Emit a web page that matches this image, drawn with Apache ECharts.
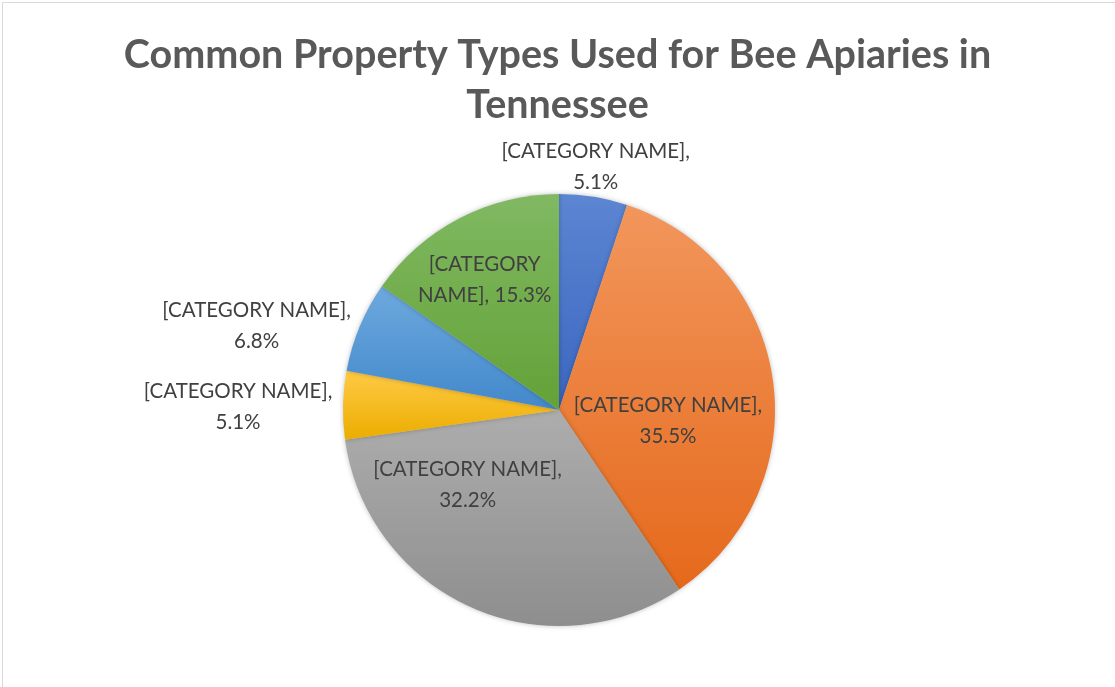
<!DOCTYPE html>
<html>
<head>
<meta charset="utf-8">
<script src="https://cdn.jsdelivr.net/npm/echarts@6/dist/echarts.min.js"></script>
<style>
  html, body { margin: 0; padding: 0; background: #fff; }
  #chart { position: absolute; left: 0; top: 0; width: 1115px; height: 687px; }
  #frame { position: absolute; left: 2px; top: 2px; width: 1200px; height: 800px;
           border-top: 1px solid #D9D9D9; border-left: 1px solid #D9D9D9; pointer-events: none; }
</style>
</head>
<body>
<div id="chart"></div>
<div id="frame"></div>
<script>
// ---- data ----
const titleText = 'Common Property Types Used for Bee Apiaries in\nTennessee';
const categories = ['[CATEGORY NAME]', '[CATEGORY NAME]', '[CATEGORY NAME]', '[CATEGORY NAME]', '[CATEGORY NAME]', '[CATEGORY NAME]'];
const values = [5.1, 35.5, 32.2, 5.1, 6.8, 15.3];
const labelTexts = [
  '[CATEGORY NAME],\n5.1%',
  '[CATEGORY NAME],\n35.5%',
  '[CATEGORY NAME],\n32.2%',
  '[CATEGORY NAME],\n5.1%',
  '[CATEGORY NAME],\n6.8%',
  '[CATEGORY\nNAME], 15.3%'
];

// ---- styles ----
const gradTop = ['#5C86D2', '#F2965C', '#ADADAD', '#FFCA45', '#6DA9DE', '#80B962'];
const gradBot = ['#3A66C0', '#E5691B', '#8E8E8E', '#EBAD00', '#4288CB', '#64A137'];
const labelOffsets = [[19, -134], [-1, 26], [-46, -26], [-210, -1], [-200, -41], [-23, -32]];

const chart = echarts.init(document.getElementById('chart'), null, { renderer: 'canvas' });

const data = values.map((v, i) => ({
  name: categories[i],
  value: v,
  itemStyle: {
    color: new echarts.graphic.LinearGradient(0, 0, 0, 1, [
      { offset: 0, color: gradTop[i] },
      { offset: 1, color: gradBot[i] }
    ])
  },
  label: {
    formatter: labelTexts[i],
    offset: labelOffsets[i]
  }
}));

chart.setOption({
  animation: false,
  backgroundColor: '#ffffff',
  title: {
    text: titleText,
    left: 'center',
    top: 25,
    textStyle: {
      fontFamily: 'Lato',
      fontWeight: 'bold',
      fontSize: 39.5,
      lineHeight: 50,
      color: '#595959'
    }
  },
  series: [{
    type: 'pie',
    center: [559, 410],
    radius: [0, 216],
    startAngle: 90,
    clockwise: true,
    avoidLabelOverlap: false,
    data: data,
    itemStyle: {
      borderWidth: 0,
      shadowBlur: 5,
      shadowColor: 'rgba(0,0,0,0.25)'
    },
    label: {
      show: true,
      position: 'inside',
      fontFamily: 'Lato',
      fontSize: 20.5,
      lineHeight: 31,
      color: '#404040',
      align: 'center'
    },
    labelLine: { show: false },
    emphasis: { disabled: true }
  }]
});
</script>
</body>
</html>
